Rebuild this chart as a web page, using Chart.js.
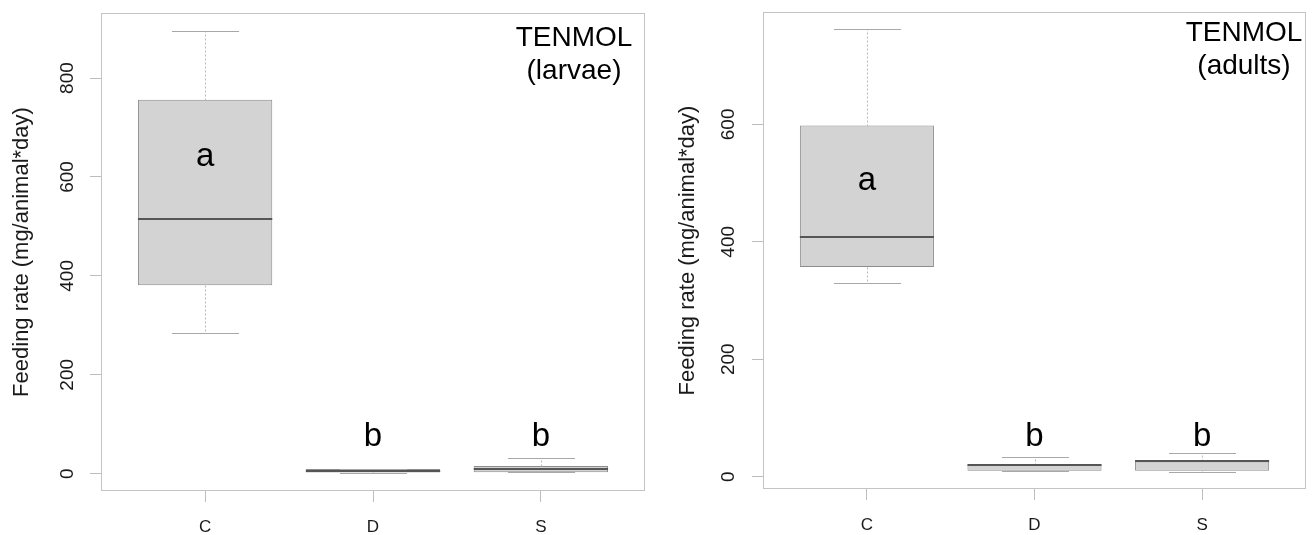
<!DOCTYPE html>
<html>
<head>
<meta charset="utf-8">
<script src="https://cdn.jsdelivr.net/npm/chart.js@4.4.1/dist/chart.umd.min.js"></script>
<style>
  html, body { margin: 0; padding: 0; background: #fff; }
  #wrap { position: relative; width: 1312px; height: 535px; }
  canvas { position: absolute; top: 0; }
</style>
</head>
<body>
<div id="wrap">
  <canvas id="larvae" width="656" height="535" style="left:0;width:656px;height:535px"></canvas>
  <canvas id="adults" width="656" height="535" style="left:656px;width:656px;height:535px"></canvas>
</div>
<script>
// groups on the x axis
const groups = ['C', 'D', 'S'];

// larvae panel (mg/animal*day)
const larvaeMin = [285, 1, 2.5];
const larvaeQ1 = [381, 2.5, 3];
const larvaeMedian = [516, 6, 9.5];
const larvaeQ3 = [756, 9.5, 15.5];
const larvaeMax = [896, 10, 32];
const larvaeLetters = ['a', 'b', 'b'];
const larvaeLetterY = [640, 74, 74];
const larvaeTicks = [0, 200, 400, 600, 800];

// adults panel
const adultsMin = [330, 9.5, 8.5];
const adultsQ1 = [357, 10.2, 10.2];
const adultsMedian = [408, 20, 26];
const adultsQ3 = [598, 20.4, 26];
const adultsMax = [762, 33, 40];
const adultsLetters = ['a', 'b', 'b'];
const adultsLetterY = [504, 68, 68];
const adultsTicks = [0, 200, 400, 600];

const yTitle = 'Feeding rate (mg/animal*day)';
const FONT = "'Liberation Sans', Arial, sans-serif";

// whiskers, caps, medians, frame, rotated y labels, text
const boxParts = {
  id: 'boxParts',
  afterDatasetsDraw(chart, args, o) {
    const { ctx, chartArea: a, scales: { x, y } } = chart;
    const bars = chart.getDatasetMeta(0).data;
    const cap = (x.getPixelForValue(2) - x.getPixelForValue(1)) * 0.2;
    const line = (x1, y1, x2, y2) => { ctx.beginPath(); ctx.moveTo(x1, y1); ctx.lineTo(x2, y2); ctx.stroke(); };
    const py = v => Math.round(y.getPixelForValue(v)) + 0.5;
    ctx.save();
    ctx.lineWidth = 1;
    o.median.forEach((m, i) => {
      const cx = Math.round(x.getPixelForValue(i + 1)) + 0.5;
      ctx.strokeStyle = '#b8b8b8';
      ctx.setLineDash([2, 2]);
      line(cx, py(o.q3[i]), cx, py(o.max[i]));
      line(cx, py(o.q1[i]), cx, py(o.min[i]));
      ctx.setLineDash([]);
      ctx.strokeStyle = '#a8a8a8';
      line(cx - cap, py(o.max[i]), cx + cap, py(o.max[i]));
      line(cx - cap, py(o.min[i]), cx + cap, py(o.min[i]));
      const b = bars[i];
      ctx.strokeStyle = '#555';
      ctx.lineWidth = 2;
      const my = Math.round(y.getPixelForValue(m));
      line(b.x - b.width / 2, my, b.x + b.width / 2, my);
      ctx.lineWidth = 1;
    });
    ctx.strokeStyle = '#c4c4c4';
    ctx.strokeRect(Math.round(a.left) + 0.5, Math.round(a.top) + 0.5, Math.round(a.width) - 1, Math.round(a.height) - 1);

    ctx.fillStyle = '#1a1a1a';
    ctx.textAlign = 'center';
    ctx.textBaseline = 'middle';
    // y tick labels, rotated like R's default
    ctx.font = '19px ' + FONT;
    o.ticks.forEach(t => {
      ctx.save();
      ctx.translate(o.tickX, y.getPixelForValue(t));
      ctx.rotate(-Math.PI / 2);
      ctx.fillText(String(t), 0, 0);
      ctx.restore();
    });
    // y title
    ctx.font = '22px ' + FONT;
    ctx.save();
    ctx.translate(o.titleX, (a.top + a.bottom) / 2);
    ctx.rotate(-Math.PI / 2);
    ctx.fillText(yTitle, 0, 0);
    ctx.restore();
    // significance letters
    ctx.fillStyle = '#000';
    ctx.font = '33px ' + FONT;
    o.letters.forEach((l, i) => ctx.fillText(l, x.getPixelForValue(i + 1), y.getPixelForValue(o.letterY[i])));
    // panel label
    ctx.font = '28px ' + FONT;
    o.label.forEach((t, i) => ctx.fillText(t, a.right - o.labelInset, a.top + o.labelTop + i * 33));
    ctx.restore();
  }
};

function makeChart(id, s, area) {
  return new Chart(document.getElementById(id), {
    type: 'bar',
    data: {
      datasets: [{
        data: groups.map((g, i) => ({ x: i + 1, y: [s.q1[i], s.q3[i]] })),
        backgroundColor: '#d3d3d3',
        borderColor: '#8c8c8c',
        borderWidth: 1,
        borderSkipped: false,
        categoryPercentage: 0.8,
        barPercentage: 1
      }]
    },
    options: {
      responsive: false,
      animation: false,
      layout: { padding: { top: area.top, right: 656 - area.right, left: 0, bottom: 0 } },
      plugins: {
        legend: { display: false },
        tooltip: { enabled: false },
        boxParts: s
      },
      scales: {
        x: {
          type: 'linear',
          min: 0.38,
          max: 3.62,
          offset: false,
          afterBuildTicks: sc => { sc.ticks = groups.map((g, i) => ({ value: i + 1 })); },
          afterFit: sc => { sc.height = 535 - area.bottom; },
          ticks: {
            callback: v => groups[v - 1],
            autoSkip: false,
            maxRotation: 0,
            padding: 15,
            color: '#1a1a1a',
            font: { family: FONT, size: 17 }
          },
          grid: { drawOnChartArea: false, offset: false, tickLength: 11, color: '#bdbdbd' },
          border: { display: false }
        },
        y: {
          min: s.yMin,
          max: s.yMax,
          afterBuildTicks: sc => { sc.ticks = s.ticks.map(v => ({ value: v })); },
          afterFit: sc => { sc.width = area.left; },
          ticks: { display: false },
          grid: { drawOnChartArea: false, tickLength: 11, color: '#bdbdbd' },
          border: { display: false }
        }
      }
    },
    plugins: [boxParts]
  });
}

makeChart('larvae', {
  min: larvaeMin, q1: larvaeQ1, median: larvaeMedian, q3: larvaeQ3, max: larvaeMax,
  letters: larvaeLetters, letterY: larvaeLetterY, ticks: larvaeTicks,
  yMin: -35, yMax: 931.6,
  tickX: 68, titleX: 22,
  label: ['TENMOL', '(larvae)'], labelInset: 71, labelTop: 25
}, { left: 101, right: 645, top: 13, bottom: 491 });

makeChart('adults', {
  min: adultsMin, q1: adultsQ1, median: adultsMedian, q3: adultsQ3, max: adultsMax,
  letters: adultsLetters, letterY: adultsLetterY, ticks: adultsTicks,
  yMin: -21, yMax: 791.4,
  tickX: 73, titleX: 32,
  label: ['TENMOL', '(adults)'], labelInset: 62, labelTop: 21
}, { left: 107, right: 650, top: 12, bottom: 489 });
</script>
</body>
</html>
